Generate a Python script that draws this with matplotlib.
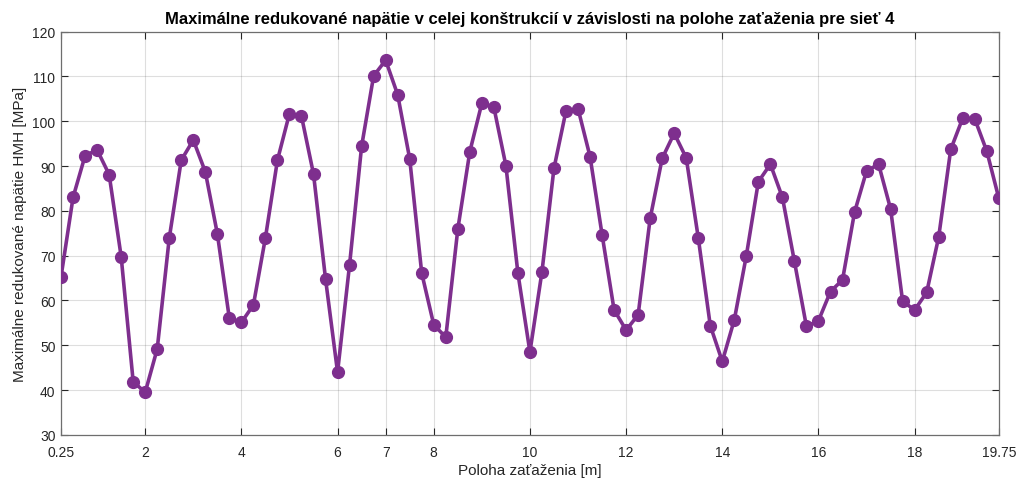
import numpy as np
import matplotlib
matplotlib.use("Agg")
import matplotlib.pyplot as plt

# --- Data: max. von Mises stress vs. load position (mesh 4) ---
poloha = np.arange(0.25, 19.75 + 0.001, 0.25)
napatie = [
    65.3, 83.0, 92.3, 93.6, 88.1, 69.8, 41.9, 39.5,
    49.2, 73.9, 91.3, 95.8, 88.7, 74.9, 56.0, 55.1,
    59.0, 74.0, 91.3, 101.7, 101.1, 88.2, 64.8, 44.0,
    68.0, 94.4, 110.1, 113.6, 105.9, 91.6, 66.1, 54.6,
    51.8, 75.9, 93.2, 104.0, 103.1, 90.1, 66.1, 48.5,
    66.4, 89.5, 102.3, 102.8, 92.1, 74.7, 57.9, 53.4,
    56.8, 78.3, 91.7, 97.3, 91.8, 74.0, 54.4, 46.4,
    55.7, 70.0, 86.5, 90.4, 83.0, 68.7, 54.2, 55.5,
    62.0, 64.6, 79.7, 88.9, 90.4, 80.4, 59.8, 57.9,
    61.8, 74.2, 93.7, 100.7, 100.5, 93.3, 82.8,
]
x_ticks = [0.25, 2, 4, 6, 7, 8, 10, 12, 14, 16, 18, 19.75]
x_tick_labels = ["0.25", "2", "4", "6", "7", "8", "10", "12", "14", "16", "18", "19.75"]
y_ticks = list(range(30, 121, 10))

plt.rcParams['font.family'] = ['Liberation Sans', 'DejaVu Sans']

axis_col = '#262626'
line_col = '#7E2F8E'

fig = plt.figure(figsize=(10.19, 4.81), dpi=100)
ax = fig.add_axes([0.0599, 0.0936, 0.9203, 0.8388])

ax.plot(poloha, napatie, '-o', color=line_col, lw=2.6, ms=8.5,
        markeredgecolor=line_col, zorder=3)

ax.set_xlim(0.25, 19.75)
ax.set_ylim(30, 120)
ax.set_xticks(x_ticks)
ax.set_xticklabels(x_tick_labels)
ax.set_yticks(y_ticks)

ax.grid(True, color='#262626', alpha=0.15, lw=0.8)
ax.tick_params(direction='in', length=5, width=0.8, top=True, right=True,
               labelsize=10, colors=axis_col)
ax.tick_params(axis='x', pad=7)
ax.tick_params(axis='y', pad=4)
for s in ax.spines.values():
    s.set_color('#6e6e6e')
    s.set_linewidth(0.9)

ax.set_xlabel('Poloha zaťaženia [m]', fontsize=11, color=axis_col, labelpad=3)
ax.set_ylabel('Maximálne redukované napätie HMH [MPa]', fontsize=11,
              color=axis_col, labelpad=4)
ax.set_title('Maximálne redukované napätie v celej konštrukcií v závislosti na polohe zaťaženia pre sieť 4',
             fontsize=12, fontweight='bold', color='black', pad=6)

fig.savefig('out.png', dpi=100)
